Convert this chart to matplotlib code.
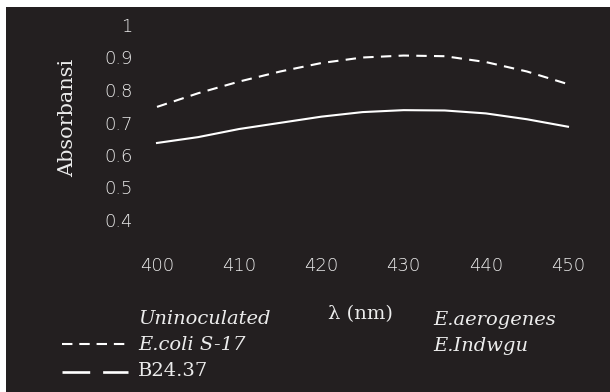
import matplotlib
matplotlib.use("Agg")
import matplotlib.pyplot as plt
from matplotlib.patches import Rectangle
from matplotlib.lines import Line2D

wavelength = [400, 405, 410, 415, 420, 425, 430, 435, 440, 445, 450]
ecoli_s17 = [0.748, 0.790, 0.826, 0.857, 0.883, 0.900, 0.906, 0.904, 0.886, 0.857, 0.818]
b2437 = [0.637, 0.655, 0.680, 0.699, 0.718, 0.732, 0.738, 0.737, 0.728, 0.710, 0.687]
xticks = [400, 410, 420, 430, 440, 450]
yticks = [0.4, 0.5, 0.6, 0.7, 0.8, 0.9, 1.0]
ytick_labels = ["0.4", "0.5", "0.6", "0.7", "0.8", "0.9", "1"]

BG = "#231f20"
FG = "#ececec"
W, H = 610, 392

fig = plt.figure(figsize=(6.10, 3.92), dpi=100, facecolor="white")
fig.patches.append(Rectangle((6 / W, 0), 1 - 6 / W, 1 - 7 / H, transform=fig.transFigure,
                             facecolor=BG, edgecolor="none", zorder=-5))

left, right = 145 / W, 580 / W
top, bottom = 1 - 25 / H, 1 - 252.5 / H
ax = fig.add_axes([left, bottom, right - left, top - bottom])
ax.set_zorder(2)
ax.set_facecolor(BG)
for s in ax.spines.values():
    s.set_visible(False)

ax.plot(wavelength, ecoli_s17, color="white", lw=1.5, dashes=(5.0, 3.5), solid_capstyle="butt")
ax.plot(wavelength, b2437, color="white", lw=1.5)

ax.set_xlim(398.54, 451.46)
ax.set_ylim(0.3, 1.0)
ax.set_xticks(xticks)
ax.set_xticklabels([str(v) for v in xticks])
ax.set_yticks(yticks)
ax.set_yticklabels(ytick_labels)
ax.tick_params(axis="both", length=0, colors=FG, labelsize=13)
ax.tick_params(axis="y", pad=9)
ax.tick_params(axis="x", pad=3)
for lab in ax.get_xticklabels() + ax.get_yticklabels():
    lab.set_fontfamily("DejaVu Sans")
    lab.set_fontweight("light")

fig.text(68 / W, 1 - 118 / H, "Absorbansi", rotation=90, ha="center", va="center",
         color=FG, fontsize=15, family="DejaVu Serif")

# x-axis title
fig.text(360 / W, 1 - 314 / H, "λ (nm)", ha="center", va="center", color=FG,
         fontsize=14, family="DejaVu Serif")

# legend
it = dict(color=FG, fontsize=14, family="DejaVu Serif", style="italic", va="center", ha="left")
fig.text(138 / W, 1 - 319 / H, "Uninoculated", **it)
fig.text(433 / W, 1 - 320 / H, "E.aerogenes", **it)
fig.text(138 / W, 1 - 345 / H, "E.coli S-17", **it)
fig.text(433 / W, 1 - 346 / H, "E.Indwgu", **it)
fig.text(138 / W, 1 - 371 / H, "B24.37", color=FG, fontsize=14, family="DejaVu Serif",
         va="center", ha="left")

fig.lines.append(Line2D([62 / W, 128 / W], [1 - 344 / H, 1 - 344 / H], transform=fig.transFigure,
                        color="white", lw=1.5, dashes=(5.0, 3.3)))
fig.lines.append(Line2D([62 / W, 128 / W], [1 - 372 / H, 1 - 372 / H], transform=fig.transFigure,
                        color="white", lw=1.9, dashes=(10.5, 4.9)))

fig.savefig("out.png", dpi=100, facecolor="white")
